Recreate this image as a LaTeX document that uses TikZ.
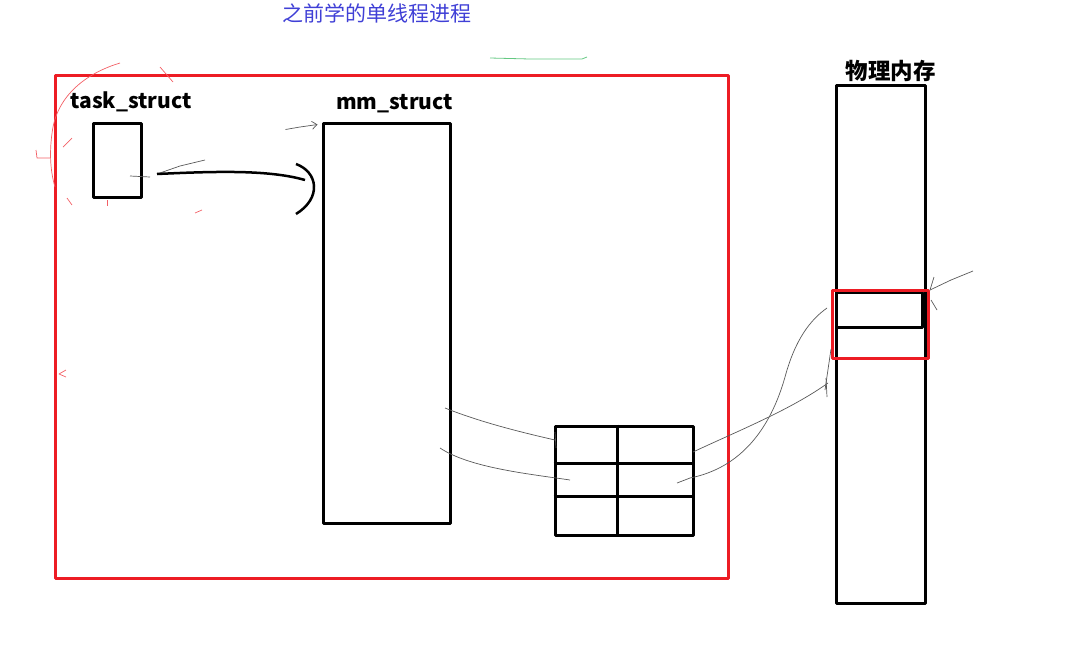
\documentclass[tikz,border=0pt]{standalone}
\usepackage{fontspec}
\setmainfont{Noto Sans CJK SC}
\usetikzlibrary{arrows.meta,calc,positioning}
\definecolor{procred}{RGB}{237,28,36}
\definecolor{titleblue}{RGB}{64,64,214}
\definecolor{pengreen}{RGB}{34,177,76}
\begin{document}
\begin{tikzpicture}[x=1pt,y=-1pt,line join=round]
        % Styles
        \tikzstyle{box}=[draw,line width=3pt,inner sep=0pt]
        \tikzstyle{label text}=[font=\fontsize{21}{21}\selectfont\bfseries,inner sep=0pt]
        \tikzstyle{pen}=[black!65,line width=0.7pt]
        \tikzstyle{red pen}=[procred!70,line width=0.7pt]
        \useasboundingbox (0,0) rectangle (1067,654);
        %title
        \node[font=\fontsize{21}{21}\selectfont,text=titleblue,inner sep=0pt] (title) at (377,13) {之前学的单线程进程};
        \draw[pengreen!70,line width=0.8pt] (490,58) -- (530,59) -- (582,59) -- (587,57);
        %process frame
        \node[box,draw=procred,minimum width=673,minimum height=503] (process) at (391.5,326.5) {};
        %boxes
        \node[box,minimum width=48,minimum height=74] (task) at (117,160) {};
        \node[box,minimum width=127,minimum height=400] (mm) at (386.5,323) {};
        \node[box,minimum width=138,minimum height=109] (table) at (624,480.5) {};
        \foreach \y in {463,496}
            \draw[line width=3pt] (table.west |- 0,\y) -- (table.east |- 0,\y);
        \draw[line width=3pt] (617,0 |- table.north) -- (617,0 |- table.south);
        \node[box,minimum width=89,minimum height=518] (memory) at (880.5,344) {};
        \node[box,minimum width=86,minimum height=35] (page) at (879,309.5) {};
        \node[box,draw=procred,minimum width=96,minimum height=68] (frame) at (880,324) {};
        %labels
        \node[label text,above=9pt of task.north,xshift=14pt] (task label) {task\_struct};
        \node[label text,above=8pt of mm.north,xshift=8pt] (mm label) {mm\_struct};
        \node[font=\fontsize{22.5}{22.5}\selectfont\bfseries,inner sep=0pt,above=2pt of memory.north,xshift=10pt] (memory label) {物理内存};
        %pointer task -> mm
        \coordinate (tail) at (157,174);
        \coordinate (head) at (305,180);
        \draw[pen] (130,176) -- (150,177);
        \draw[pen] (tail) -- (180,166) -- (205,160);
        \draw[line width=2.5pt] (tail) .. controls (220,171) and (270,170) .. (head);
        \draw[line width=2.5pt] (296,164) .. controls (318,172) and (322,198) .. (296,214);
        \draw[pen,-{Straight Barb[length=5pt,width=8pt]}] ($(mm.north west)+(-36,8)$) -- (300,127) -- ($(mm.north west)+(-4,3)$);
        %mm -> table
        \draw[pen] (445,408) .. controls (480,422) and (520,432) .. (555,440);
        \draw[pen] (555,432) -- (556,448);
        \draw[pen] (440,448) .. controls (470,468) and (530,474) .. (570,480);
        %table -> memory
        \draw[pen] (693,452) .. controls (740,430) and (790,410) .. (828,383);
        \draw[pen] (826,378) -- (827,397);
        \draw[pen] (677,483) -- (690,478) .. controls (740,468) and (770,430) .. (785,377)
            .. controls (795,340) and (810,320) .. (827,308);
        \draw[pen] (831,349) -- (825,390);
        \draw[pen] (973,271) -- (951,280) -- (930,290);
        \draw[pen] (934,277) -- (930,290);
        \draw[pen] (931,300) -- (937,310);
        %red marks
        \draw[red pen] (120,63) .. controls (90,72) and (60,92) .. (53,127) .. controls (49,150) and (50,170) .. (55,187);
        \draw[red pen] (36,150) -- (37,158) -- (50,158);
        \draw[red pen] (160,67) -- (173,82);
        \draw[red pen] (72,138) -- (63,147);
        \draw[red pen] (67,198) -- (72,205);
        \draw[red pen] (107,200) -- (107,206);
        \draw[red pen] (195,213) -- (202,210);
        \draw[red pen] (66,370) -- (59,374) -- (66,377);
\end{tikzpicture}
\end{document}
